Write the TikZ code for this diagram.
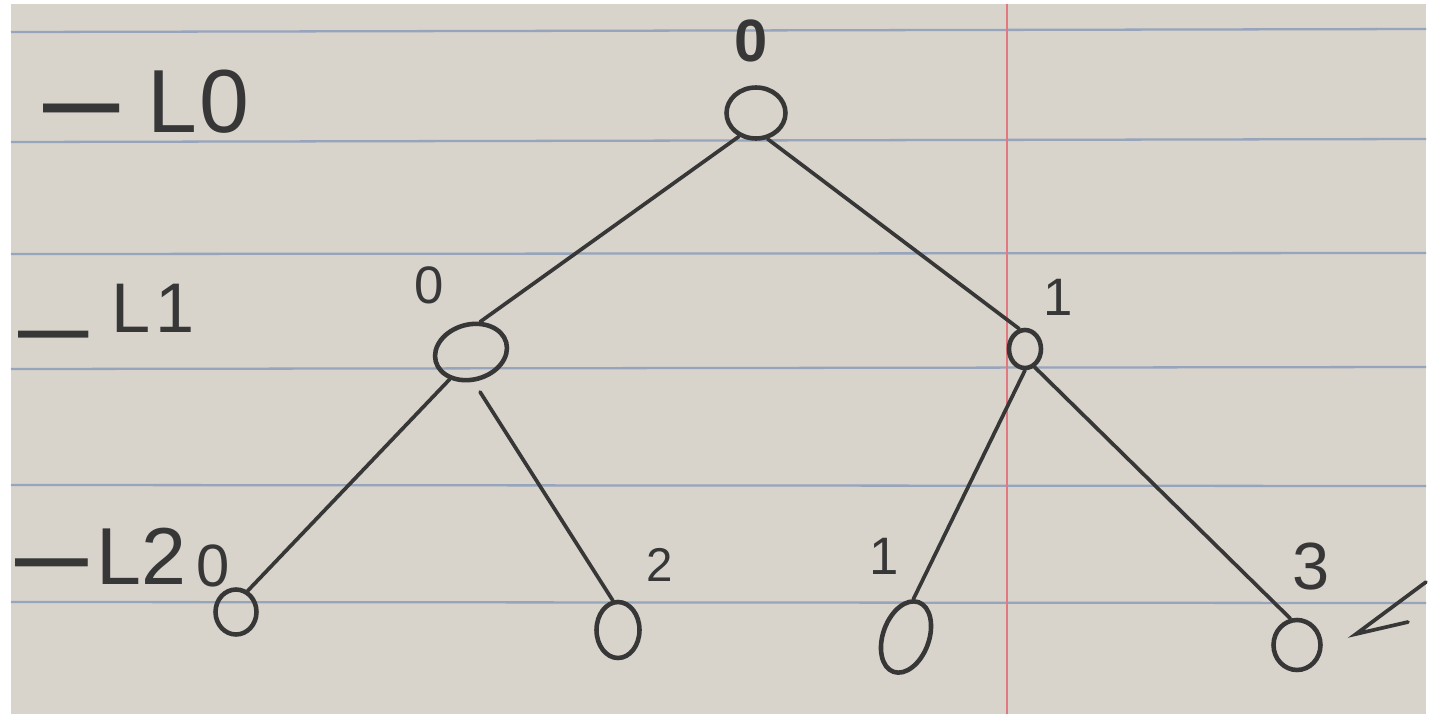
\documentclass[tikz,border=0pt]{standalone}
\usepackage{fontspec}
\setmainfont{Liberation Sans}
\usepackage{graphicx}
\usetikzlibrary{shapes.geometric}
\definecolor{paper}{RGB}{216,211,203}
\definecolor{ruled}{RGB}{150,164,188}
\definecolor{margin}{RGB}{226,120,128}
\definecolor{ink}{RGB}{55,55,55}
\tikzset{
  px/.style={x=0.02cm,y=-0.02cm},
  knot/.style={ellipse,draw=ink,line width=2.6pt,inner sep=0pt},
  branch/.style={draw=ink,line width=2.1pt,line cap=round},
  digit/.style={text=ink,inner sep=0pt,font=\fontsize{30}{30}\selectfont},
  level/.style={text=ink,inner sep=0pt,anchor=base west},
  rule/.style={draw=ruled,line width=1.3pt},
}
\begin{document}
\begin{tikzpicture}[px]
\useasboundingbox (0,0) rectangle (1438,714);
\fill[white] (0,0) rectangle (1438,714);
\fill[paper] (11,4) rectangle (1426,714);
\foreach \a/\b in {32/29,142/139,254/253,369/367,485/486,602/603}
  \draw[rule] (11,\a) -- (1426,\b);
\draw[draw=margin,line width=1.1pt] (1007,4) -- (1007,714);

% level labels
\node[level,font=\fontsize{51}{51}\selectfont] (lvl0) at (43,132) {\scalebox{0.85}[1]{\bfseries —}\hspace{16pt}L\hspace{1pt}0};
\node[level,font=\fontsize{40}{40}\selectfont] (lvl1) at (18,332) {\raisebox{-12.5pt}{\bfseries —}\hspace{13pt}L\hspace{3pt}1};
\node[level,font=\fontsize{46}{46}\selectfont] (lvl2) at (15,584) {\scalebox{0.9}[1]{\bfseries —}\hspace{5pt}L2};

% tree nodes
\node[knot,minimum width=1.18cm,minimum height=1.02cm] (root) at (756,113) {};
\node[knot,minimum width=1.46cm,minimum height=1.10cm,rotate=15] (l1a) at (471,352) {};
\node[knot,minimum width=0.64cm,minimum height=0.76cm] (l1b) at (1025,349) {};
\node[knot,minimum width=0.82cm,minimum height=0.90cm] (lf0) at (236,612) {};
\node[knot,minimum width=0.86cm,minimum height=1.12cm] (lf2) at (618,630) {};
\node[knot,minimum width=0.92cm,minimum height=1.48cm,rotate=-20] (lf1) at (906,637) {};
\node[knot,minimum width=0.94cm,minimum height=1.00cm] (lf3) at (1297,645) {};

% digits
\node[digit,font=\bfseries\fontsize{34}{34}\selectfont] (t0) at (751,41) {0};
\node[digit] (t1) at (429,285) {0};
\node[digit] (t2) at (1058,297) {1};
\node[digit,font=\fontsize{34}{34}\selectfont] (t3) at (213,566) {0};
\node[digit,font=\fontsize{27}{27}\selectfont] (t4) at (660,565) {2};
\node[digit] (t5) at (884,556) {1};
\node[digit,font=\fontsize{38}{38}\selectfont] (t6) at (1311,567) {3};

% branches
\draw[branch] (root.234) -- (l1a.58);
\draw[branch] (root.294) -- (l1b.106);
\draw[branch] (l1a.217) -- (lf0.61);
\draw[branch,shorten <=0.24cm] (l1a.260) -- (lf2.100);
\draw[branch] (l1b.270) -- (lf1.99);
\draw[branch] (l1b.298) -- (lf3.104);

% tick mark
\draw[branch] (1426,582) -- (1356,634) -- (1408,622);
\end{tikzpicture}
\end{document}
